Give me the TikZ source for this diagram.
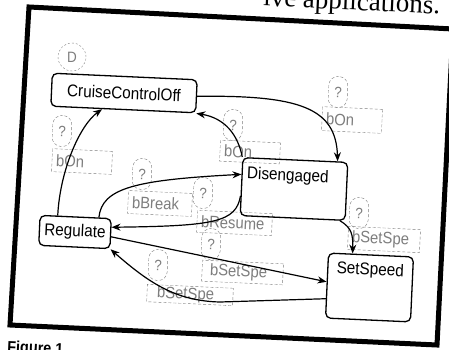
\documentclass[tikz,border=0pt]{standalone}
\usepackage{fontspec}
\setmainfont{Liberation Serif}
\newfontfamily\hep[FakeStretch=0.9]{Liberation Sans}
\usetikzlibrary{arrows.meta, positioning}
\definecolor{xam}{RGB}{125,125,125}

\begin{document}
\begin{tikzpicture}[x=1pt, y=-1pt,
    trangthai/.style={draw, line width=1.3pt, rounded corners=5pt, inner sep=5pt, font=\hep\fontsize{17}{19}\selectfont, rotate=-2.6},
    hoi/.style={draw=xam, dash pattern=on 3pt off 2pt, rounded corners=9pt, minimum width=19pt, minimum height=31pt, inner sep=0pt, text=xam, font=\hep\fontsize{15}{17}\selectfont, rotate=-2.6},
    nhan/.style={draw=xam, dash pattern=on 3pt off 2pt, inner xsep=4pt, inner ysep=1pt, align=left, text=xam, font=\hep\fontsize{16.5}{18}\selectfont, rotate=-2.6},
    mui/.style={-{Stealth[length=9pt, width=7pt]}, line width=1.2pt}]

    \useasboundingbox (0,0) rectangle (449,350);
    \clip (0,0) rectangle (449,350);

    % Dòng chữ bị cắt ở trên
    \node[font=\fontsize{27}{30}\selectfont, anchor=base east, rotate=-2.6, inner sep=0pt] (dong) at (440,14) {ive applications.};
    % Khung đen dày
    \draw[line width=5pt] (29,7) -- (453,29) -- (437,345) -- (10,325) -- cycle;
    % Chú thích hình ở dưới
    \node[font=\hep\bfseries\fontsize{16}{18}\selectfont, anchor=base west, rotate=-2.6, inner sep=0pt] (hinh) at (7,352) {Figure 1.};

    % Vòng tròn "D" trên CruiseControlOff
    \node[circle, draw=xam, dash pattern=on 2pt off 2pt, minimum size=28pt, inner sep=0pt, text=xam, font=\hep\fontsize{15}{17}\selectfont] (dau) at (72,57) {D};

    % Các ô "?" (nét đứt)
    \node[hoi] (q1) at (338,92) {?};
    \node[hoi] (q2) at (233,125) {?};
    \node[hoi] (q3) at (62,131) {?};
    \node[hoi] (q4) at (142,174) {?};
    \node[hoi] (q5) at (203,193) {?};
    \node[hoi] (q6) at (359,213) {?};
    \node[hoi] (q7) at (211,244) {?};
    \node[hoi] (q8) at (158,265) {?};

    % Các nhãn sự kiện (nét đứt)
    \node[nhan, text width=52pt, minimum height=24pt] (r1) at (352,120) {bOn};
    \node[nhan, text width=52pt, minimum height=21pt] (r2) at (250,152) {bOn};
    \node[nhan, text width=52pt, minimum height=23pt] (r3) at (82,161.5) {bOn};
    \node[nhan, text width=56pt, minimum height=23pt] (r4) at (160,203.5) {bBreak};
    \node[nhan, text width=67pt, minimum height=22pt] (r5) at (234.5,223) {bResume};
    \node[nhan, text width=64pt, minimum height=23pt] (r6) at (384,239.5) {bSetSpe};
    \node[nhan, text width=73pt, minimum height=21pt] (r7) at (242.5,272.5) {\hspace*{4pt}bSetSpe};
    \node[nhan, text width=78pt, minimum height=17pt] (r8) at (190,295) {\hspace*{6pt}bSetSpe};

    % Các trạng thái
    \node[trangthai, minimum width=145pt, minimum height=33pt] (off) at (124,93) {CruiseControlOff};
    \node[trangthai, minimum width=70pt, minimum height=30pt] (reg) at (75,232) {Regulate};
    \node[trangthai, text width=95pt, align=left, text height=16pt, text depth=32pt] (dis) at (294,189) {Disengaged};
    \node[trangthai, text width=75pt, align=center, text height=15pt, text depth=40pt] (set) at (369.5,287.5) {SetSpeed};

    % Các chuyển trạng thái
    \draw[mui] (off.east) .. controls (300,95) and (336,108) .. (dis.35);
    \draw[mui] (dis.north west) .. controls (238,135) and (225,118) .. (off.south east);
    \draw[mui] (reg.139) .. controls (60,170) and (80,125) .. (off.219);
    \draw[mui] (reg.34) .. controls (102,188) and (135,180) .. (dis.167);
    \draw[mui] (dis.190) .. controls (236,222) and (215,226) .. (reg.10);
    \draw[mui] (dis.-32) .. controls (352,228) and (353,235) .. (set.119);
    \draw[mui] (reg.-5) -- (set.175);
    \coordinate (gap) at (220,302);
    \draw[mui] (set.197) -- (gap) .. controls (175,301) and (148,282) .. (reg.south east);
\end{tikzpicture}
\end{document}
